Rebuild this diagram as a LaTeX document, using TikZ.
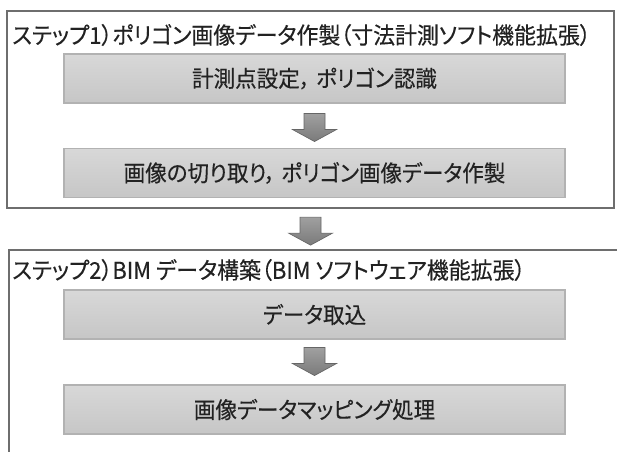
\documentclass[tikz,border=0pt]{standalone}
\usepackage{fontspec}
\setmainfont[RawFeature=+palt, FakeBold=0.3, FakeStretch=0.95]{Noto Sans CJK JP}
\usetikzlibrary{calc}
\definecolor{outerline}{HTML}{6E6E6E}
\definecolor{innerline}{HTML}{B2B2B2}
\definecolor{innertop}{HTML}{D8D8D8}
\definecolor{innerbot}{HTML}{C6C6C6}
\definecolor{arrtop}{HTML}{A0A0A0}
\definecolor{arrbot}{HTML}{7A7A7A}
\definecolor{arrline}{HTML}{666666}
\definecolor{txt}{HTML}{222222}
\tikzset{
  outerbox/.style={draw=outerline, line width=1.6pt, fill=white, inner sep=0pt, anchor=north west},
  titletext/.style={anchor=west, inner sep=0pt, text=txt, font=\fontsize{17.3pt}{20pt}\selectfont},
  innerbox/.style={draw=innerline, line width=0.8pt, top color=innertop, bottom color=innerbot,
    minimum width=375.75pt, minimum height=36.75pt, inner sep=0pt, text=txt,
    font=\fontsize{17pt}{20pt}\selectfont},
  blockarrow/.style={draw=arrline, line width=0.5pt, top color=arrtop, bottom color=arrbot, line join=miter},
}
\newcommand{\blockarr}[2]{%
  \draw[blockarrow] ($(#1)+(-10.5,#2)$) -- ++(21,0) -- ++(0,16) -- ++(11.5,0)
    -- ++(-22,12) -- ++(-22,-12) -- ++(11.5,0) -- cycle;}
\newcommand{\jcomma}{，\hspace{0.25em}}
\begin{document}
\begin{tikzpicture}[x=0.75pt,y=-0.75pt]
\useasboundingbox (0,0) rectangle (617,452);
\clip (0,0) rectangle (617,452);
% step 1 frame
\node[outerbox, minimum width=607*0.75pt, minimum height=197*0.75pt] (s1) at (6,10) {};
\node[titletext] (t1) at (12,35) {ステップ1）ポリゴン画像データ作製（寸法計測ソフト機能拡張）};
\node[innerbox] (a1) at (314.5,78.5) {計測点設定\jcomma ポリゴン認識};
\node[innerbox] (a2) at (314.5,173) {画像の切り取り\jcomma ポリゴン画像データ作製};
% step 2 frame
\node[outerbox, minimum width=640*0.75pt, minimum height=240*0.75pt] (s2) at (8,249) {};
\node[titletext] (t2) at (12,270) {ステップ2）BIM データ構築（BIM ソフトウェア機能拡張）};
\node[innerbox] (b1) at (314.5,314.5) {データ取込};
\node[innerbox] (b2) at (314.5,409.5) {画像データマッピング処理};
% arrows
\blockarr{a1.south}{10}
\blockarr{s1.south}{8}
\blockarr{b1.south}{8}
\end{tikzpicture}
\end{document}
